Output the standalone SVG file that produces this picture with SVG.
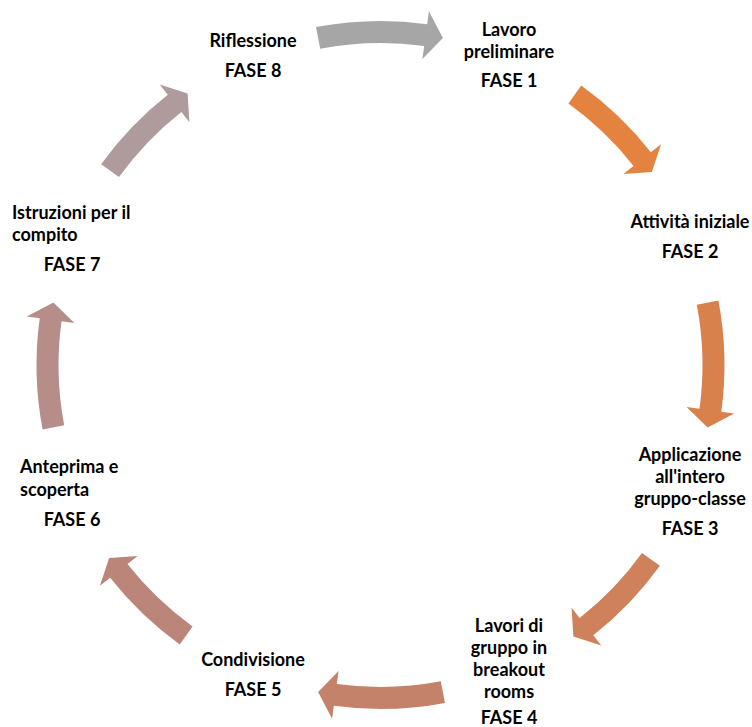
<svg xmlns="http://www.w3.org/2000/svg" width="752" height="727" viewBox="0 0 752 727">
<style>
text{font-family:Lato,"Open Sans","Liberation Sans",sans-serif;font-weight:bold;font-size:18px;fill:#000}
.c{text-anchor:middle}
</style>
<defs>
<path id="ac" d="M316.0,27.1 A344,344 0 0 1 427.2,24.2 L428.9,11.3 L442.9,37.9 L422.4,58.9 L424.2,46.0 A322,322 0 0 0 320.2,48.7 Z"/>
<path id="ad" d="M324.9,25.5 A344,344 0 0 1 421.2,23.4 L422.8,10.5 L436.0,36.7 L417.1,58.2 L418.6,45.3 A322,322 0 0 0 328.5,47.2 Z"/>
</defs>
<rect width="752" height="727" fill="#fff"/>
<g id="connectors">
<use href="#ac" fill="#A6A6A6"/>
<use href="#ad" fill="#E4833F" transform="rotate(45 380.5 365)"/>
<use href="#ac" fill="#D9814D" transform="rotate(90 380.5 365)"/>
<use href="#ad" fill="#CF815B" transform="rotate(135 380.5 365)"/>
<use href="#ac" fill="#C5826A" transform="rotate(180 380.5 365)"/>
<use href="#ad" fill="#BC857A" transform="rotate(225 380.5 365)"/>
<use href="#ac" fill="#B68D89" transform="rotate(270 380.5 365)"/>
<use href="#ad" fill="#AF9B9C" transform="rotate(315 380.5 365)"/>
</g>
<g id="fase1"><text class="c" x="509" y="36">Lavoro</text><text class="c" x="509" y="58">preliminare</text><text class="c" x="509" y="87">FASE 1</text></g>
<g id="fase2"><text class="c" x="690" y="228">Attività iniziale</text><text class="c" x="690" y="258">FASE 2</text></g>
<g id="fase3"><text class="c" x="690" y="461">Applicazione</text><text class="c" x="690" y="483">all'intero</text><text class="c" x="690" y="505">gruppo-classe</text><text class="c" x="690" y="535">FASE 3</text></g>
<g id="fase4"><text class="c" x="509" y="632">Lavori di</text><text class="c" x="509" y="654">gruppo in</text><text class="c" x="509" y="676">breakout</text><text class="c" x="509" y="698">rooms</text><text class="c" x="509" y="724">FASE 4</text></g>
<g id="fase5"><text class="c" x="253" y="666">Condivisione</text><text class="c" x="253" y="696">FASE 5</text></g>
<g id="fase6"><text x="20" y="473">Anteprima e</text><text x="20" y="496">scoperta</text><text class="c" x="72" y="526">FASE 6</text></g>
<g id="fase7"><text x="12" y="219">Istruzioni per il</text><text x="12" y="241">compito</text><text class="c" x="72" y="271">FASE 7</text></g>
<g id="fase8"><text class="c" x="253" y="47">Riflessione</text><text class="c" x="253" y="77">FASE 8</text></g>
</svg>
